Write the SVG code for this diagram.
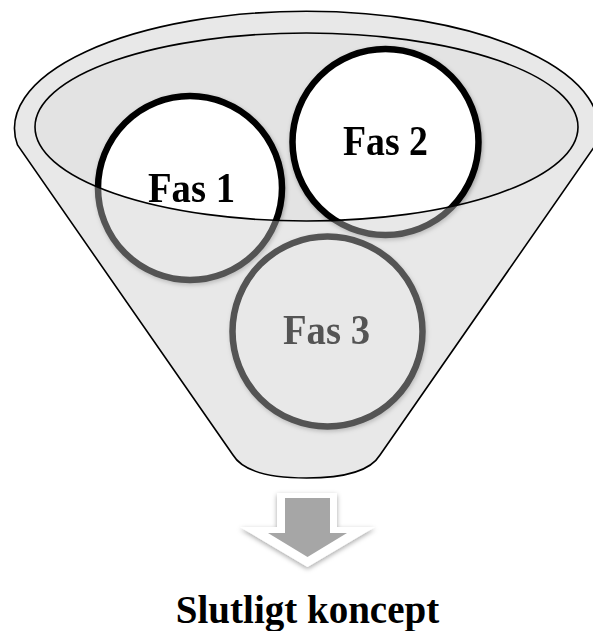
<svg xmlns="http://www.w3.org/2000/svg" width="593" height="631" viewBox="0 0 593 631">
  <defs>
    <style>
      .phase { fill: #ffffff; stroke: #000000; stroke-width: 6.5; }
      .label { font-family: "Liberation Serif", "Times New Roman", serif; font-weight: bold; text-anchor: middle; }
      .phase-text { font-size: 42px; fill: #000000; }
      .outline { fill: none; stroke: #000000; stroke-width: 1.6; }
    </style>
    <filter id="soft" x="-20%" y="-20%" width="140%" height="140%">
      <feDropShadow dx="1" dy="2" stdDeviation="2" flood-color="#000000" flood-opacity="0.3"/>
    </filter>
    <filter id="arrowShadow" x="-30%" y="-30%" width="160%" height="160%">
      <feDropShadow dx="0" dy="2" stdDeviation="2.5" flood-color="#000000" flood-opacity="0.35"/>
    </filter>
  </defs>

  <!-- funnel mouth (behind the phases) -->
  <g id="funnel-back">
    <ellipse cx="306.5" cy="127" rx="271.5" ry="94" fill="#e3e3e3"/>
  </g>

  <!-- phases -->
  <g id="node-fas1" filter="url(#soft)">
    <circle class="phase" cx="190" cy="188" r="92"/>
    <text class="label phase-text" x="191.5" y="202" textLength="87" lengthAdjust="spacingAndGlyphs">Fas 1</text>
  </g>
  <g id="node-fas2" filter="url(#soft)">
    <circle class="phase" cx="385.5" cy="142" r="93"/>
    <text class="label phase-text" x="385.5" y="155" textLength="85" lengthAdjust="spacingAndGlyphs">Fas 2</text>
  </g>
  <g id="node-fas3" filter="url(#soft)">
    <circle class="phase" cx="327.5" cy="331.5" r="95"/>
    <text class="label phase-text" x="326.5" y="344" textLength="87" lengthAdjust="spacingAndGlyphs">Fas 3</text>
  </g>

  <!-- funnel body (translucent, over the phases) -->
  <g id="funnel-front">
    <path fill="#c8c8c8" fill-opacity="0.42" fill-rule="evenodd"
          d="M17.5,145 A292,117 0 1 1 595.5,145 L380,455 C368,475 332,478 306.5,478 C281,478 245,475 233,455 Z
             M35,127 A271.5,94 0 1 0 578,127 A271.5,94 0 1 0 35,127 Z"/>
    <path class="outline" d="M17.5,145 A292,117 0 1 1 595.5,145 L380,455 C368,475 332,478 306.5,478 C281,478 245,475 233,455 Z"/>
    <ellipse class="outline" cx="306.5" cy="127" rx="271.5" ry="94"/>
  </g>

  <!-- output arrow -->
  <g id="connectors">
    <polygon filter="url(#arrowShadow)" fill="#ffffff"
             points="277,493 337,493 337,527 375,527 307.5,567 240,527 277,527"/>
    <polygon fill="#a6a6a6"
             points="285,498 330,498 330,533 347,533 307.5,557 268,533 285,533"/>
  </g>

  <g id="result">
    <text class="label" x="307.5" y="623" font-size="39px" fill="#000000">Slutligt koncept</text>
  </g>
</svg>
